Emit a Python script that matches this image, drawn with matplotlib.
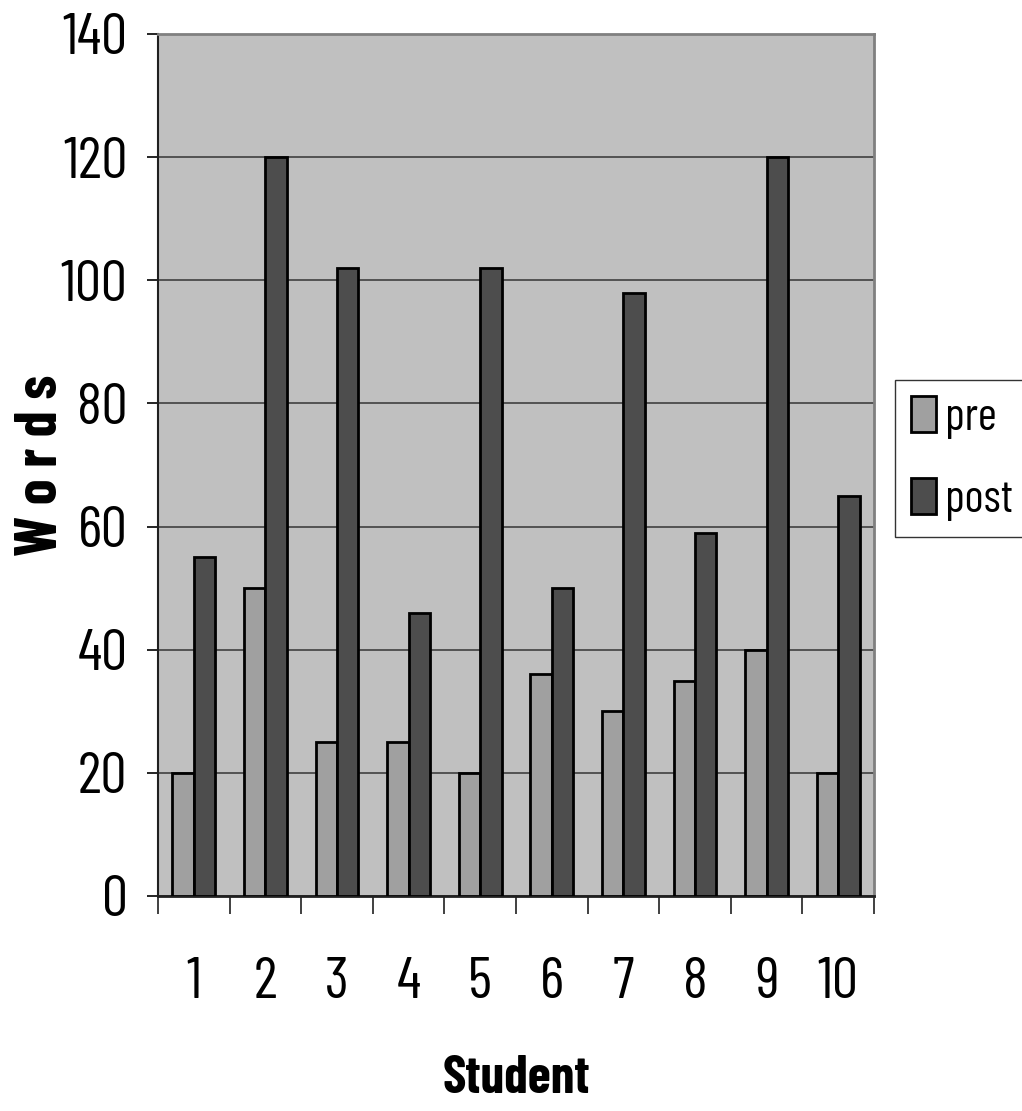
import numpy as np
import matplotlib.pyplot as plt

# Data
students = ["1", "2", "3", "4", "5", "6", "7", "8", "9", "10"]
pre = [20, 50, 25, 25, 20, 36, 30, 35, 40, 20]
post = [55, 120, 102, 46, 102, 50, 98, 59, 120, 65]
y_ticks = [0, 20, 40, 60, 80, 100, 120, 140]

# narrow font, close to Arial Narrow
plt.rcParams["font.family"] = ["Barlow Condensed", "DejaVu Sans"]

fig = plt.figure(figsize=(10.22, 11.11), dpi=100)
ax = fig.add_axes([158 / 1022, 1 - 896 / 1111, (874 - 158) / 1022, (896 - 34) / 1111])
ax.set_facecolor("#c0c0c0")

x = np.arange(len(students))
w = 0.3
ax.bar(x - w / 2, pre, w, color="#a0a0a0", edgecolor="black", linewidth=2, label="pre", zorder=3)
ax.bar(x + w / 2, post, w, color="#4d4d4d", edgecolor="black", linewidth=2, label="post", zorder=3)

ax.set_xlim(-0.5, len(students) - 0.5)
ax.set_ylim(0, 140)
ax.set_yticks(y_ticks)
ax.yaxis.grid(True, color="#404040", linewidth=1.2, zorder=1)
ax.set_axisbelow(True)

# x ticks sit between groups, labels centred under the groups
ax.set_xticks(np.arange(len(students) + 1) - 0.5)
ax.set_xticklabels([])
ax.set_xticks(x, minor=True)
ax.set_xticklabels(students, minor=True, fontsize=42)
ax.tick_params(axis="x", which="major", direction="out", length=13, width=1.2, color="#202020")
ax.tick_params(axis="x", which="minor", length=0, pad=44)
ax.tick_params(axis="y", direction="out", length=8, width=1.2, labelsize=42, pad=14)

for s in ["top", "right"]:
    ax.spines[s].set_color("#808080")
    ax.spines[s].set_linewidth(2)
ax.spines["left"].set_color("#202020")
ax.spines["left"].set_linewidth(1.5)
ax.spines["bottom"].set_color("#202020")
ax.spines["bottom"].set_linewidth(2)

ax.set_xlabel("Student", fontsize=38, fontweight="bold")
ax.xaxis.set_label_coords(0.5, -0.184)
ax.set_ylabel("W o r d s", fontsize=42, fontweight="bold")
ax.yaxis.set_label_coords(-0.125, 0.5)

leg = ax.legend(loc="upper left", bbox_to_anchor=(1.029, 0.599), fontsize=33, frameon=True,
                fancybox=False, edgecolor="black", handlelength=0.55, handleheight=0.85,
                handletextpad=0.2, borderpad=0.35, labelspacing=0.85, borderaxespad=0)
leg.get_frame().set_linewidth(1)

fig.savefig("out.png", dpi=100, facecolor="white")
